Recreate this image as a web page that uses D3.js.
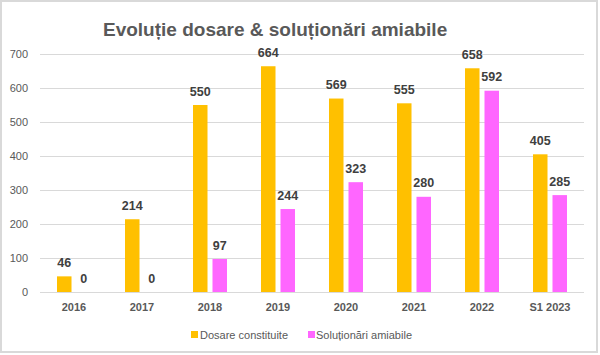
<!DOCTYPE html>
<html><head><meta charset="utf-8">
<script src="https://cdn.jsdelivr.net/npm/d3@7"></script>
<style>body{margin:0;background:#fff}svg{display:block;font-family:"Liberation Sans",Arial,sans-serif}</style>
</head><body><svg id="c" width="600" height="355"></svg>
<script>
const categories = ["2016","2017","2018","2019","2020","2021","2022","S1 2023"];
const dosare = [46,214,550,664,569,555,658,405];
const solutionari = [0,0,97,244,323,280,592,285];
const seriesNames = ["Dosare constituite","Soluționări amiabile"];
const yTicks = [0,100,200,300,400,500,600,700];
const colors = ["#FFC000","#FF66FF"];

const svg = d3.select("#c");
svg.append("rect").attr("x",1).attr("y",1).attr("width",596).attr("height",351)
  .attr("fill","#fff").attr("stroke","#d9d9d9").attr("stroke-width",2);

const x0 = d3.scaleBand().domain(categories).range([40,584]);
const x1 = d3.scaleBand().domain(seriesNames).range([-17,17]).paddingInner(0.256);
const y = d3.scaleLinear().domain([0,700]).range([292,54]);

svg.append("g").selectAll("line").data(yTicks).join("line")
  .attr("x1",40).attr("x2",584).attr("y1",d=>y(d)+0.5).attr("y2",d=>y(d)+0.5)
  .attr("stroke","#d9d9d9").attr("stroke-width",1);

svg.append("g").selectAll("text").data(yTicks).join("text")
  .attr("x",28).attr("y",d=>y(d)+4).attr("text-anchor","end")
  .attr("font-size",11).attr("fill","#595959").text(d=>d);

const data = categories.map((c,i)=>({c, vals:[dosare[i], solutionari[i]]}));
const g = svg.append("g").selectAll("g").data(data).join("g")
  .attr("transform",d=>`translate(${x0(d.c)+x0.bandwidth()/2},0)`);
g.selectAll("rect").data(d=>d.vals.map((v,j)=>({v,k:seriesNames[j],j}))).join("rect")
  .attr("x",d=>x1(d.k)).attr("width",x1.bandwidth())
  .attr("y",d=>y(d.v)).attr("height",d=>y(0)-y(d.v)).attr("fill",d=>colors[d.j]);
g.selectAll("text").data(d=>d.vals.map((v,j)=>({v,k:seriesNames[j],j}))).join("text")
  .attr("x",d=>x1(d.k)+x1.bandwidth()/2).attr("y",d=>y(d.v)-9.5)
  .attr("text-anchor","middle").attr("font-size",12.5).attr("font-weight","bold")
  .attr("fill","#404040").text(d=>d.v);

svg.append("g").selectAll("text").data(categories).join("text")
  .attr("x",d=>x0(d)+x0.bandwidth()/2).attr("y",311).attr("text-anchor","middle")
  .attr("font-size",11).attr("font-weight","bold").attr("fill","#595959").text(d=>d);

svg.append("text").attr("x",103).attr("y",35.5).attr("font-size",19).attr("font-weight","bold")
  .attr("fill","#595959").text("Evoluție dosare & soluționări amiabile");

const legX = [191,308];
const lg = svg.append("g").selectAll("g").data(seriesNames).join("g")
  .attr("transform",(d,i)=>`translate(${legX[i]},0)`);
lg.append("rect").attr("x",0).attr("y",331).attr("width",7).attr("height",7).attr("fill",(d,i)=>colors[i]);
lg.append("text").attr("x",(d,i)=>i===0?9:8).attr("y",338.5).attr("font-size",11).attr("fill","#595959").text(d=>d);
</script></body></html>
